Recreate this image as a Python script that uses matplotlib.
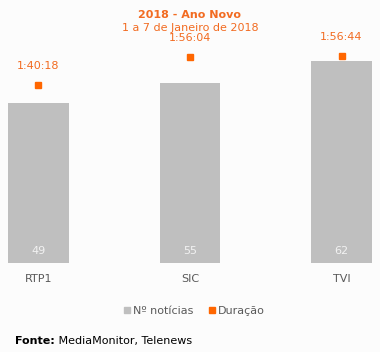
import matplotlib
matplotlib.use("Agg")
import matplotlib.pyplot as plt
from matplotlib.lines import Line2D

# data
channels = ["RTP1", "SIC", "TVI"]
n_noticias = [49, 55, 62]
duracao_txt = ["1:40:18", "1:56:04", "1:56:44"]
duracao_s = [6018, 6964, 7004]

W, H, DPI = 380, 352, 100
BG = "#FCFCFC"
GREY = "#BFBFBF"
ORANGE = "#FF6600"
TXT_OR = "#F26B21"

fig = plt.figure(figsize=(W / DPI, H / DPI), dpi=DPI, facecolor=BG)
plt.rcParams['font.family'] = ['DejaVu Sans']

# axes box in pixels (from top): bottom 263, top 30
top_px, bot_px = 30, 263
ax = fig.add_axes([0, 1 - bot_px / H, 1, (bot_px - top_px) / H])
ax.set_facecolor(BG)
ax.set_xlim(-0.254, 2.254)
ax.set_ylim(0, (bot_px - top_px) / 3.265)

x = range(len(channels))
ax.bar(x, n_noticias, width=0.4, color=GREY, zorder=2)
for i, v in enumerate(n_noticias):
    ax.annotate(str(v), xy=(i, 0), xytext=(0, 8.6), textcoords="offset points",
                ha="center", va="center", fontsize=8, color="#F2F2F2")

ax2 = ax.twinx()
ax2.set_ylim(0, (bot_px - top_px) / 0.0296)
ax2.plot(x, duracao_s, ls="none", marker="s", ms=5, color=ORANGE, zorder=3)
for i, (s, t) in enumerate(zip(duracao_s, duracao_txt)):
    ax2.annotate(t, xy=(i, s), xytext=(0, 13.7), textcoords="offset points",
                 ha="center", va="center", fontsize=8, color=TXT_OR)

for a in (ax, ax2):
    for sp in a.spines.values():
        sp.set_visible(False)
    a.set_yticks([])
ax.set_xticks(list(x))
ax.set_xticklabels(channels, fontsize=8, color="#595959")
ax.tick_params(axis="x", length=0, pad=8)

fig.text(0.5, 1 - 15 / H, "2018 - Ano Novo", ha="center", va="center",
         fontsize=8, fontweight="bold", color=TXT_OR)
fig.text(0.5, 1 - 28 / H, "1 a 7 de Janeiro de 2018", ha="center", va="center",
         fontsize=8, color=TXT_OR)

handles = [Line2D([], [], ls="none", marker="s", ms=5, color=GREY),
           Line2D([], [], ls="none", marker="s", ms=5, color=ORANGE)]
leg = fig.legend(handles, ["Nº notícias", "Duração"], loc="center",
                 bbox_to_anchor=(194 / W, 1 - 311 / H), ncol=2, frameon=False,
                 fontsize=8, handlelength=0.6, handletextpad=0.2, columnspacing=1.4)
for t in leg.get_texts():
    t.set_color("#595959")

f1 = fig.text(15 / W, 1 - 341 / H, "Fonte:", ha="left", va="center",
              fontsize=8, fontweight="bold", color="black")
ax.annotate(" MediaMonitor, Telenews", xy=(1, 0.5), xycoords=f1, ha="left",
            va="center", fontsize=8, color="black", annotation_clip=False)

fig.savefig("out.png", dpi=DPI, facecolor=BG)
